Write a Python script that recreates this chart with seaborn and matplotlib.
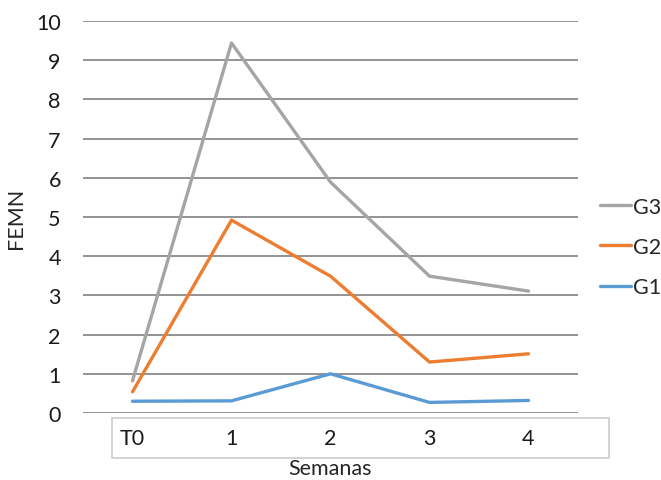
import pandas as pd
import seaborn as sns
import matplotlib
matplotlib.use("Agg")
import matplotlib.pyplot as plt
from matplotlib.patches import Rectangle

semanas = ["T0", "1", "2", "3", "4"]
g1 = [0.30, 0.31, 1.00, 0.27, 0.32]
g2 = [0.54, 4.92, 3.49, 1.30, 1.51]
g3 = [0.82, 9.44, 5.89, 3.49, 3.11]

sns.set_style("white")
plt.rcParams['font.family'] = ['Lato', 'DejaVu Sans']

df = pd.DataFrame({"Semanas": semanas * 3,
                   "FEMN": g1 + g2 + g3,
                   "grupo": ["G1"] * 5 + ["G2"] * 5 + ["G3"] * 5})
df["x"] = df["Semanas"].map({s: i for i, s in enumerate(semanas)})

colores = {"G1": "#5B9BD5", "G2": "#ED7D31", "G3": "#A5A5A5"}

fig = plt.figure(figsize=(6.61, 4.81), dpi=100)
ax = fig.add_axes([83/661, 1-414/481, 495/661, 392/481])

sns.lineplot(data=df, x="x", y="FEMN", hue="grupo", palette=colores,
             linewidth=2.4, ax=ax, legend=True)

ax.set_xlim(-0.5, 4.5)
ax.set_ylim(0, 10)
ax.set_yticks(range(0, 11))
ax.set_xticks(range(len(semanas)))
ax.set_xticklabels(semanas)
ax.tick_params(axis="both", length=0, labelsize=15.5, colors="#1a1a1a")
ax.tick_params(axis="y", pad=16)
ax.tick_params(axis="x", pad=11)
ax.yaxis.grid(True, color="#808080", linewidth=1.2)
ax.xaxis.grid(False)
for s in ax.spines.values():
    s.set_visible(False)
ax.set_ylabel("FEMN", fontsize=15.5, labelpad=7)
ax.set_xlabel("Semanas", fontsize=15.5, labelpad=7)

# caja alrededor de las etiquetas del eje x
fig.patches.append(Rectangle((112/661, 1-459/481), 497/661, 40/481,
                             transform=fig.transFigure, fill=False,
                             edgecolor="#cccccc", linewidth=1.2))

handles, labels = ax.get_legend_handles_labels()
orden = [labels.index(g) for g in ["G3", "G2", "G1"]]
ax.legend([handles[i] for i in orden], [labels[i] for i in orden],
          loc="center left", bbox_to_anchor=(600/661, 1-248/481),
          bbox_transform=fig.transFigure, frameon=False, fontsize=15.5,
          handlelength=1.45, handletextpad=0.1, labelspacing=0.95,
          borderpad=0, borderaxespad=0)

plt.savefig("out.png", dpi=100)
